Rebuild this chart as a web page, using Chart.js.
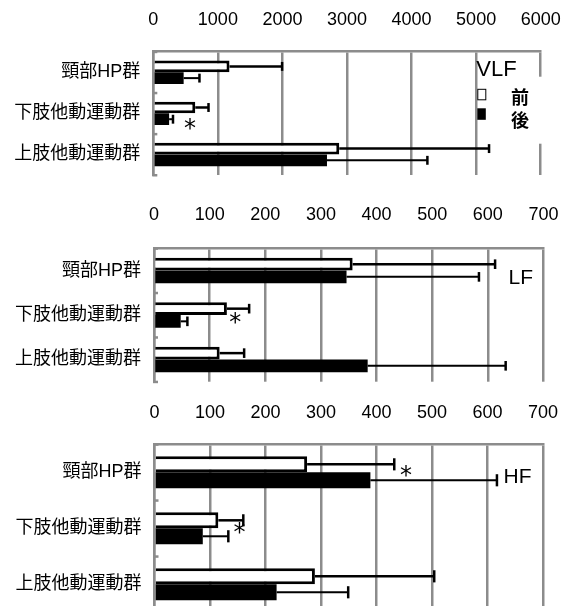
<!DOCTYPE html>
<html><head><meta charset="utf-8">
<script src="https://cdn.jsdelivr.net/npm/chart.js@4.4.0/dist/chart.umd.min.js"></script>
<style>
html,body{margin:0;padding:0;background:#fff;overflow:hidden;width:569px;height:606px;}
canvas{position:absolute;left:0;}
</style></head><body>
<canvas id="c1" width="569" height="200" style="top:0px"></canvas>
<canvas id="c2" width="569" height="200" style="top:200px"></canvas>
<canvas id="c3" width="569" height="213" style="top:400px"></canvas>
<script>
// ---- data ----
const categories = ['頸部HP群', '下肢他動運動群', '上肢他動運動群'];
const seriesNames = ['前', '後'];

const vlfTicks = [0, 1000, 2000, 3000, 4000, 5000, 6000];
const vlfBefore = [1180, 650, 2880];
const vlfBeforeSD = [815, 205, 2320];
const vlfAfter = [470, 245, 2690];
const vlfAfterSD = [245, 60, 1555];
const vlfStars = [{cat: 1, value: 570}];

const lfTicks = [0, 100, 200, 300, 400, 500, 600, 700];
const lfBefore = [357, 131, 118];
const lfBeforeSD = [256, 40, 44];
const lfAfter = [346, 48, 384];
const lfAfterSD = [238, 12, 248];
const lfStars = [{cat: 1, value: 146}];

const hfTicks = [0, 100, 200, 300, 400, 500, 600, 700];
const hfBefore = [275, 115, 289];
const hfBeforeSD = [157, 45, 215];
const hfAfter = [389, 87, 220];
const hfAfterSD = [228, 46, 129];
const hfStars = [{cat: 0, value: 453}, {cat: 1, value: 153}];

// ---- styling / layout ----
const GRAY = '#8c8c8c';
const LATIN = "'Liberation Sans', Arial, sans-serif";
const CJK = "'Liberation Sans', 'Noto Sans CJK JP', sans-serif";

const panels = [
  {id: 'c1', title: 'VLF', ticks: vlfTicks, before: vlfBefore, beforeSD: vlfBeforeSD, after: vlfAfter, afterSD: vlfAfterSD,
   stars: vlfStars, starDy: [11], axisW: 153.3, axisH: 51.7, tickPad: 20.9, padR: 28.3, padB: 25, legend: true},
  {id: 'c2', title: 'LF', ticks: lfTicks, before: lfBefore, beforeSD: lfBeforeSD, after: lfAfter, afterSD: lfAfterSD,
   stars: lfStars, starDy: [3], axisW: 154, axisH: 48.3, tickPad: 22.5, padR: 25.5, padB: 18.3,
   titleDx: -10.5, titleDy: 29.7, titleSize: 21},
  {id: 'c3', title: 'HF', ticks: hfTicks, before: hfBefore, beforeSD: hfBeforeSD, after: hfAfter, afterSD: hfAfterSD,
   stars: hfStars, starDy: [-1, 0], axisW: 154.5, axisH: 44.3, tickPad: 20.8, padR: 26, padB: 0.7,
   titleDx: -11.5, titleDy: 32.7, titleSize: 21}
];

const errorBars = {
  id: 'errorBars',
  afterDatasetsDraw(chart) {
    const ctx = chart.ctx, xs = chart.scales.x;
    chart.data.datasets.forEach((ds, di) => {
      const meta = chart.getDatasetMeta(di);
      meta.data.forEach((bar, i) => {
        const end = xs.getPixelForValue(ds.data[i] + ds.errors[i]);
        const y = bar.y, h = bar.height;
        ctx.save();
        ctx.strokeStyle = '#000';
        ctx.lineWidth = ds.errWidth;
        ctx.beginPath(); ctx.moveTo(bar.x, y); ctx.lineTo(end, y); ctx.stroke();
        ctx.lineWidth = 2.5;
        ctx.beginPath(); ctx.moveTo(end, y - h * 0.38); ctx.lineTo(end, y + h * 0.38); ctx.stroke();
        ctx.restore();
      });
    });
  }
};

function makeAnno(p) {
  return {
    id: 'anno',
    afterDraw(chart) {
      const ctx = chart.ctx, a = chart.chartArea, ys = chart.scales.y, xs = chart.scales.x;
      ctx.save();
      ctx.fillStyle = GRAY;
      for (let i = 0; i <= categories.length; i++) {
        const y = ys.getPixelForValue(i - 0.5);
        ctx.fillRect(a.left - 1, y - 1, 5, 2.5);
      }
      ctx.fillStyle = '#000';
      ctx.font = "24px 'DejaVu Sans'";
      ctx.textAlign = 'center';
      ctx.textBaseline = 'alphabetic';
      const m = ctx.measureText('*');
      p.stars.forEach((s, k) => {
        const x = xs.getPixelForValue(s.value);
        const yc = ys.getPixelForValue(s.cat) + p.starDy[k];
        const base = yc - (m.actualBoundingBoxDescent - m.actualBoundingBoxAscent) / 2;
        ctx.fillText('*', x, base);
      });
      if (p.legend) {
        ctx.fillStyle = '#fff';
        ctx.fillRect(a.right - 62.5, a.top + 25, 80, 67);
        ctx.fillStyle = '#000';
        ctx.textAlign = 'left';
        ctx.textBaseline = 'middle';
        ctx.font = "22px " + LATIN;
        ctx.fillText(p.title, a.right - 64.4, a.top + 18.5);
        ctx.lineWidth = 1;
        ctx.strokeStyle = '#000';
        ctx.fillStyle = '#fff';
        ctx.fillRect(a.right - 62.9, a.top + 37.6, 8, 10.5);
        ctx.strokeRect(a.right - 62.9, a.top + 37.6, 8, 10.5);
        ctx.fillStyle = '#000';
        ctx.fillRect(a.right - 63.4, a.top + 56.6, 8.5, 11.5);
        ctx.font = "bold 18px 'Noto Sans CJK JP'";
        ctx.textAlign = 'center';
        ctx.fillText(seriesNames[0], a.right - 20.7, a.top + 45.8);
        ctx.fillText(seriesNames[1], a.right - 20.7, a.top + 68.3);
      } else {
        ctx.fillStyle = '#000';
        ctx.textAlign = 'right';
        ctx.textBaseline = 'middle';
        ctx.font = p.titleSize + "px " + LATIN;
        ctx.fillText(p.title, a.right + p.titleDx, a.top + p.titleDy);
      }
      ctx.restore();
    }
  };
}

panels.forEach(p => {
  new Chart(document.getElementById(p.id), {
    type: 'bar',
    data: {
      labels: categories,
      datasets: [
        {label: seriesNames[0], data: p.before, errors: p.beforeSD, errWidth: 2.5,
         backgroundColor: '#fff', borderColor: '#000', borderWidth: 3},
        {label: seriesNames[1], data: p.after, errors: p.afterSD, errWidth: 2,
         backgroundColor: '#000', borderColor: '#000', borderWidth: 0}
      ]
    },
    options: {
      indexAxis: 'y',
      responsive: false,
      animation: false,
      devicePixelRatio: 1,
      categoryPercentage: 0.57,
      barPercentage: 1.0,
      layout: {padding: {left: 0, top: 0, right: p.padR, bottom: p.padB}},
      plugins: {legend: {display: false}, tooltip: {enabled: false}},
      scales: {
        x: {
          type: 'linear', position: 'top',
          min: p.ticks[0], max: p.ticks[p.ticks.length - 1],
          afterBuildTicks: s => { s.ticks = p.ticks.map(v => ({value: v})); },
          afterFit: s => { s.height = p.axisH; s.paddingLeft = 0; s.paddingRight = 0; },
          ticks: {padding: p.tickPad, color: '#000', font: {family: LATIN, size: 18},
                  maxRotation: 0, autoSkip: false, callback: v => String(v)},
          grid: {color: GRAY, lineWidth: 2.5, drawTicks: false},
          border: {display: true, color: GRAY, width: 2.5}
        },
        y: {
          type: 'category',
          afterFit: s => { s.width = p.axisW; s.paddingTop = 0; s.paddingBottom = 0; },
          ticks: {padding: 13, color: '#000', font: {family: CJK, size: 18}},
          grid: {display: false, drawTicks: false},
          border: {display: true, color: GRAY, width: 2.5}
        }
      }
    },
    plugins: [errorBars, makeAnno(p)]
  });
});
</script>
</body></html>
